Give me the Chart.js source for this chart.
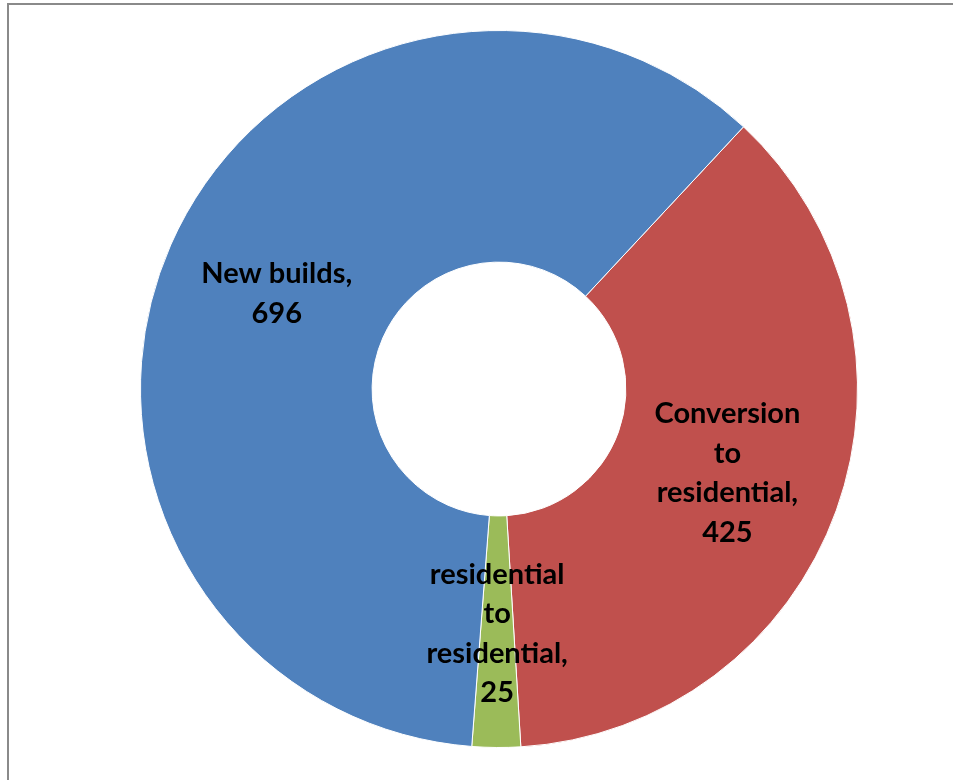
<!DOCTYPE html>
<html>
<head>
<meta charset="utf-8">
<script src="https://cdn.jsdelivr.net/npm/chart.js@4"></script>
<style>
  html, body { margin:0; padding:0; background:#fff; overflow:hidden; }
  #frame { position:absolute; left:7px; top:3px; width:1000px; height:900px; border:2px solid #8a8a8a; box-sizing:border-box; }
  #wrap { position:absolute; left:0; top:0; width:953px; height:780px; }
</style>
</head>
<body>
<div id="frame"></div>
<div id="wrap"><canvas id="chartDonut" width="953" height="780"></canvas></div>
<script>
const categories = ["Conversion to residential", "residential to residential", "New builds"];
const values = [425, 25, 696];
const colors = ["#C0504D", "#9BBB59", "#4F81BD"];

const labelFont = "bold 29px Lato, 'Open Sans', sans-serif";

function wrapText(ctx, text, maxW){
  const words = text.split(" ");
  const lines = [];
  let cur = "";
  for (const w of words){
    const t = cur ? cur + " " + w : w;
    if (cur && ctx.measureText(t).width > maxW){ lines.push(cur); cur = w; }
    else cur = t;
  }
  if (cur) lines.push(cur);
  return lines;
}

const sliceLabels = {
  id: "sliceLabels",
  afterDatasetsDraw(chart){
    const ctx = chart.ctx;
    const meta = chart.getDatasetMeta(0);
    ctx.save();
    ctx.font = labelFont;
    ctx.fillStyle = "#000";
    ctx.textAlign = "center";
    ctx.textBaseline = "middle";
    const lh = 39.5;
    meta.data.forEach((arc, i) => {
      const p = arc.getCenterPoint();
      const lines = wrapText(ctx, chart.data.labels[i] + ",", 160);
      lines.push(String(values[i]));
      const y0 = p.y + 2 - (lines.length - 1) * lh / 2;
      lines.forEach((ln, k) => ctx.fillText(ln, p.x, y0 + k * lh));
    });
    ctx.restore();
  }
};

new Chart(document.getElementById("chartDonut"), {
  type: "doughnut",
  data: {
    labels: categories,
    datasets: [{ data: values, backgroundColor: colors, borderColor: "#ffffff", borderWidth: 1 }]
  },
  options: {
    responsive: false,
    animation: false,
    rotation: 43,
    cutout: "35.4%",
    layout: { padding: { left: 140, right: 95, top: 30, bottom: 32 } },
    plugins: { legend: { display: false }, tooltip: { enabled: false } }
  },
  plugins: [sliceLabels]
});
</script>
</body>
</html>
